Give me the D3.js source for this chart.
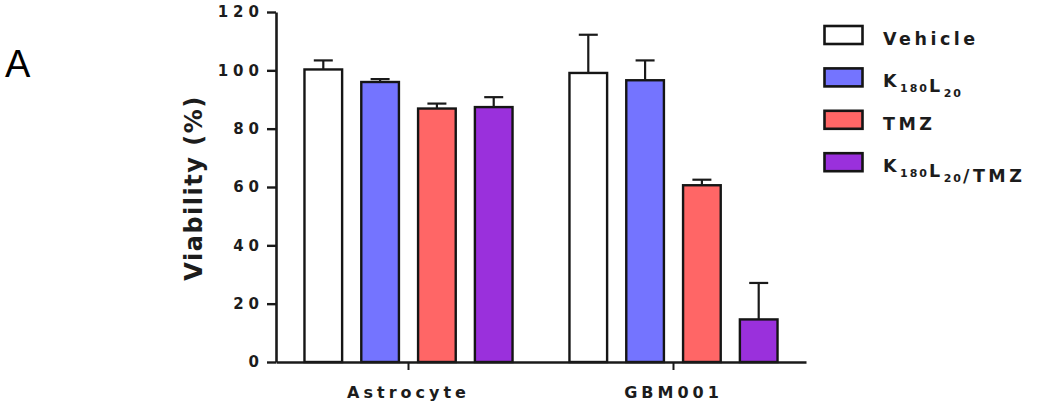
<!DOCTYPE html>
<html>
<head>
<meta charset="utf-8">
<script src="https://cdn.jsdelivr.net/npm/d3@7"></script>
<style>
  body { margin: 0; background: #fff; }
  text { font-family: "DejaVu Sans", sans-serif; font-weight: bold; fill: #1c1c1c; }
</style>
</head>
<body>
<div id="chart"></div>
<script>
// data
const groups = ["Astrocyte", "GBM001"];
const series = ["Vehicle", "K_180L_20", "TMZ", "K_180L_20/TMZ"];
const colors = ["#ffffff", "#7474ff", "#ff6666", "#9a30dc"];

const vehicle = [100.3, 99.1];
const vehicleErr = [3.1, 13.1];
const k180l20 = [96.0, 96.6];
const k180l20Err = [1.0, 6.8];
const tmz = [86.9, 60.6];
const tmzErr = [1.7, 1.9];
const combo = [87.4, 14.6];
const comboErr = [3.4, 12.5];

const yTicks = [0, 20, 40, 60, 80, 100, 120];

const means = [vehicle, k180l20, tmz, combo];
const errs = [vehicleErr, k180l20Err, tmzErr, comboErr];

const width = 1054, height = 419;

const svg = d3.select("#chart").append("svg")
  .attr("width", width)
  .attr("height", height);

/* scales */
const x0 = d3.scaleBand()
  .domain(groups)
  .range([276, 806])
  .paddingInner(0.1425)
  .paddingOuter(0.0713);

const x1 = d3.scaleBand()
  .domain(series)
  .range([0, x0.bandwidth()])
  .paddingInner(0.295)
  .paddingOuter(0.1475);

const y = d3.scaleLinear()
  .domain([0, 120])
  .range([362, 12]);

/* bars */
const rows = [];
groups.forEach((g, gi) => {
  series.forEach((s, si) => {
    rows.push({ group: g, key: s, value: means[si][gi], err: errs[si][gi], color: colors[si] });
  });
});

const bars = svg.append("g").attr("class", "bars");

bars.selectAll("rect")
  .data(rows).enter()
  .append("rect")
  .attr("x", d => x0(d.group) + x1(d.key) + 1.2)
  .attr("y", d => y(d.value))
  .attr("width", x1.bandwidth() - 2.4)
  .attr("height", d => y(0) - y(d.value))
  .style("fill", d => d.color)
  .style("stroke", "#151515")
  .style("stroke-width", 2.4);

/* error bars, upper side only */
const errs_g = svg.append("g").attr("class", "errors")
  .style("stroke", "#1a1a1a")
  .style("stroke-width", 2.2);

errs_g.selectAll("line.stem")
  .data(rows).enter()
  .append("line")
  .attr("class", "stem")
  .attr("x1", d => x0(d.group) + x1(d.key) + x1.bandwidth() / 2)
  .attr("x2", d => x0(d.group) + x1(d.key) + x1.bandwidth() / 2)
  .attr("y1", d => y(d.value))
  .attr("y2", d => y(d.value + d.err));

errs_g.selectAll("line.cap")
  .data(rows).enter()
  .append("line")
  .attr("class", "cap")
  .attr("x1", d => x0(d.group) + x1(d.key) + x1.bandwidth() / 2 - 9.5)
  .attr("x2", d => x0(d.group) + x1(d.key) + x1.bandwidth() / 2 + 9.5)
  .attr("y1", d => y(d.value + d.err))
  .attr("y2", d => y(d.value + d.err));

/* axes */
const yAxis = d3.axisLeft(y).tickValues(yTicks).tickSize(9).tickSizeOuter(0).tickPadding(3);
const gy = svg.append("g")
  .attr("class", "y axis")
  .attr("transform", "translate(276,0)")
  .call(yAxis);
gy.select(".domain").style("stroke", "#1a1a1a").style("stroke-width", 2.6);
gy.selectAll(".tick line").style("stroke", "#1a1a1a").style("stroke-width", 2.4);
gy.selectAll(".tick text")
  .style("font-size", "15px")
  .style("letter-spacing", "5px")
  .style("font-family", "\"DejaVu Sans\", sans-serif")
  .style("font-weight", "bold")
  .attr("fill", "#1c1c1c");

const xAxis = d3.axisBottom(x0).tickSize(8).tickSizeOuter(0).tickPadding(17);
const gx = svg.append("g")
  .attr("class", "x axis")
  .attr("transform", "translate(0,362)")
  .call(xAxis);
gx.select(".domain").style("stroke", "#1a1a1a").style("stroke-width", 2.6);
gx.selectAll(".tick line").style("stroke", "#1a1a1a").style("stroke-width", 2);
gx.selectAll(".tick text")
  .style("font-size", "16px")
  .style("letter-spacing", "4px")
  .style("font-family", "\"DejaVu Sans\", sans-serif")
  .style("font-weight", "bold")
  .attr("fill", "#1c1c1c");

/* axis title */
svg.append("text")
  .attr("transform", "translate(202,188) rotate(-90)")
  .attr("text-anchor", "middle")
  .style("font-size", "24px")
  .style("letter-spacing", "1.5px")
  .text("Viability (%)");

/* panel letter */
svg.append("text")
  .attr("x", 5)
  .attr("y", 77)
  .style("font-family", "\"Liberation Sans\", Arial, sans-serif")
  .style("font-weight", "normal")
  .style("font-size", "38px")
  .style("fill", "#000")
  .text("A");

/* legend */
const legend = svg.append("g").attr("class", "legend");
const legendRow = 42.4;

series.forEach((s, i) => {
  const base = 45 + i * legendRow;
  legend.append("rect")
    .attr("x", 824.5)
    .attr("y", base - 19)
    .attr("width", 38)
    .attr("height", 18)
    .style("fill", colors[i])
    .style("stroke", "#151515")
    .style("stroke-width", 2.6);

  const t = legend.append("text")
    .attr("x", 883)
    .attr("y", base)
    .style("font-size", "17.5px")
    .style("letter-spacing", "3.5px");

  // "_" marks a subscript run of digits
  s.split(/(_\d+)/).filter(p => p.length).forEach(p => {
    if (p[0] === "_") {
      t.append("tspan")
        .attr("dy", 5)
        .style("font-size", "11px")
        .style("letter-spacing", "2px")
        .text(p.slice(1));
      t.append("tspan").attr("dy", -5).text("");
    } else {
      t.append("tspan").text(p);
    }
  });
});
</script>
</body>
</html>
